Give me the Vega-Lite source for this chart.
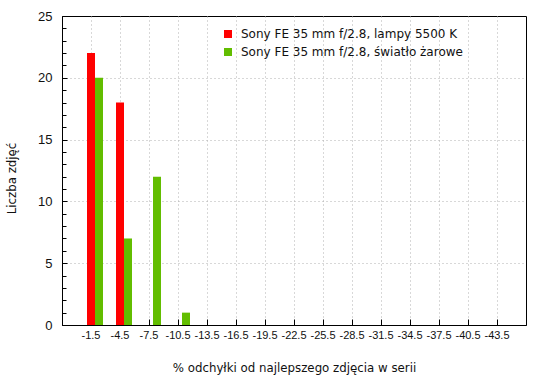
{
  "$schema": "https://vega.github.io/schema/vega-lite/v6.json",
  "width": 464,
  "height": 309,
  "autosize": {"type": "none"},
  "padding": {"left": 62, "top": 16, "right": 24, "bottom": 55},
  "background": "white",
  "config": {
    "font": "Liberation Sans",
    "view": {"stroke": "black", "strokeWidth": 1}
  },
  "data": {
    "values": [
      {"odchylka": "-1.5", "seria": "Sony FE 35 mm f/2.8, lampy 5500 K", "liczba": 22},
      {"odchylka": "-4.5", "seria": "Sony FE 35 mm f/2.8, lampy 5500 K", "liczba": 18},
      {"odchylka": "-1.5", "seria": "Sony FE 35 mm f/2.8, światło żarowe", "liczba": 20},
      {"odchylka": "-4.5", "seria": "Sony FE 35 mm f/2.8, światło żarowe", "liczba": 7},
      {"odchylka": "-7.5", "seria": "Sony FE 35 mm f/2.8, światło żarowe", "liczba": 12},
      {"odchylka": "-10.5", "seria": "Sony FE 35 mm f/2.8, światło żarowe", "liczba": 1}
    ]
  },
  "mark": {"type": "bar"},
  "encoding": {
    "x": {
      "field": "odchylka",
      "type": "nominal",
      "scale": {
        "domain": ["-1.5", "-4.5", "-7.5", "-10.5", "-13.5", "-16.5", "-19.5", "-22.5", "-25.5", "-28.5", "-31.5", "-34.5", "-37.5", "-40.5", "-43.5"],
        "paddingInner": 0,
        "paddingOuter": 0.5
      },
      "axis": {
        "title": "% odchyłki od najlepszego zdjęcia w serii",
        "titleFont": "DejaVu Sans",
        "titleFontSize": 11.8,
        "titleFontWeight": "normal",
        "titleColor": "#111111",
        "titlePadding": 22,
        "labelAngle": 0,
        "labelFontSize": 11,
        "labelColor": "#111111",
        "labelPadding": 10,
        "tickSize": -6,
        "tickColor": "black",
        "domainColor": "black",
        "grid": true,
        "gridColor": "#b0b0b0",
        "gridDash": [1, 3],
        "bandPosition": 0.5
      }
    },
    "xOffset": {
      "field": "seria",
      "type": "nominal",
      "scale": {"range": [10.5, 26.5], "paddingInner": 0, "paddingOuter": 0}
    },
    "y": {
      "field": "liczba",
      "type": "quantitative",
      "scale": {"domain": [0, 25], "nice": false},
      "axis": {
        "title": "Liczba zdjęć",
        "titleFont": "DejaVu Sans",
        "titleFontSize": 11.8,
        "titleFontWeight": "normal",
        "titleColor": "#111111",
        "titlePadding": 20,
        "titleY": 162,
        "values": [0, 1, 2, 3, 4, 5, 6, 7, 8, 9, 10, 11, 12, 13, 14, 15, 16, 17, 18, 19, 20, 21, 22, 23, 24, 25],
        "labelExpr": "datum.value % 5 === 0 ? datum.label : ''",
        "labelFontSize": 13,
        "labelColor": "#111111",
        "labelPadding": 15,
        "tickSize": {"condition": {"test": "datum.value % 5 === 0", "value": -5}, "value": -4},
        "tickColor": "black",
        "domainColor": "black",
        "grid": true,
        "gridColor": "#b0b0b0",
        "gridDash": [1, 3],
        "gridOpacity": {"condition": {"test": "datum.value % 5 === 0 && datum.value > 0 && datum.value < 25", "value": 1}, "value": 0}
      }
    },
    "color": {
      "field": "seria",
      "type": "nominal",
      "scale": {
        "domain": ["Sony FE 35 mm f/2.8, lampy 5500 K", "Sony FE 35 mm f/2.8, światło żarowe"],
        "range": ["#ff0000", "#62bd00"]
      },
      "legend": {
        "title": null,
        "orient": "none",
        "legendX": 160,
        "legendY": 12,
        "symbolType": "square",
        "symbolSize": 64,
        "symbolStrokeWidth": 0,
        "labelFontSize": 12,
        "labelFont": "DejaVu Sans",
        "labelColor": "#111111",
        "rowPadding": 6,
        "labelOffset": 7,
        "labelLimit": 400
      }
    }
  }
}
